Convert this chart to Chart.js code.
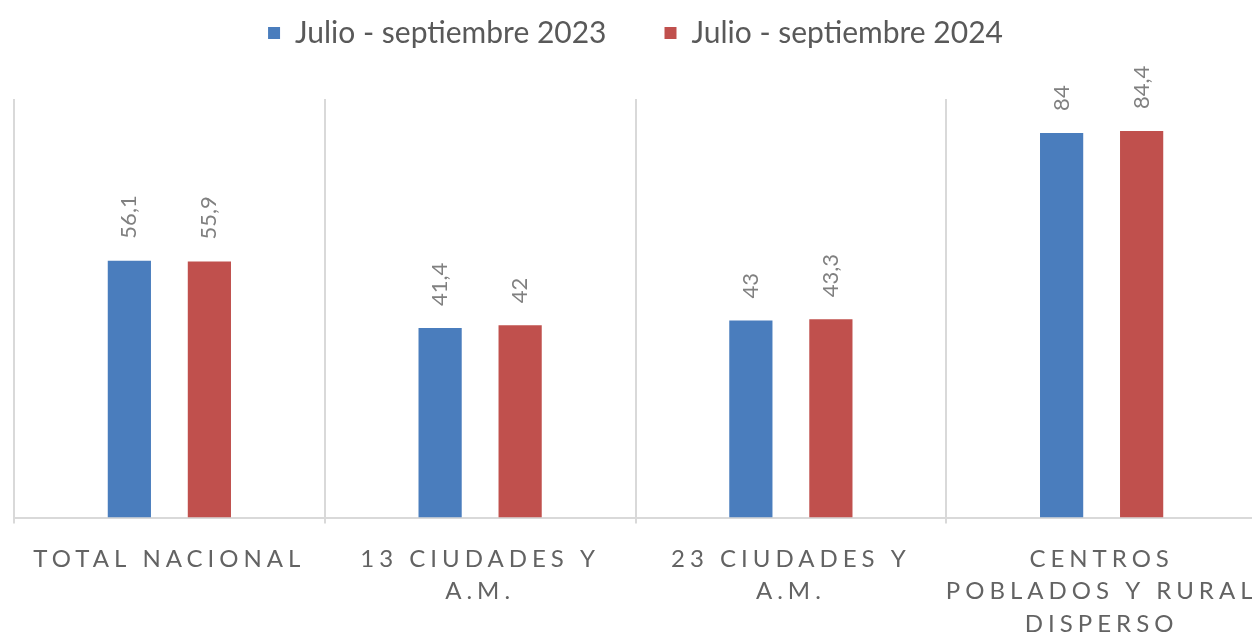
<!DOCTYPE html>
<html>
<head>
<meta charset="utf-8">
<script src="https://cdn.jsdelivr.net/npm/chart.js@4.4.1/dist/chart.umd.min.js"></script>
<style>
  html, body { margin: 0; padding: 0; background: #fff; overflow: hidden; }
  #wrap { width: 1262px; height: 660px; position: relative; }
</style>
</head>
<body>
<div id="wrap"><canvas id="chart"></canvas></div>
<script>
const categories = [
  'TOTAL NACIONAL',
  ['13 CIUDADES Y', 'A.M.'],
  ['23 CIUDADES Y', 'A.M.'],
  ['CENTROS', 'POBLADOS Y RURAL', 'DISPERSO']
];
const seriesNames = ['Julio - septiembre 2023', 'Julio - septiembre 2024'];
const values2023 = [56.1, 41.4, 43, 84];
const values2024 = [55.9, 42, 43.3, 84.4];

const BLUE = '#4a7dbd';
const RED = '#c0504d';

// extra room under the legend before the plot starts
const legendGap = {
  id: 'legendGap',
  afterInit(chart) {
    const legend = chart.legend;
    const fit = legend.fit.bind(legend);
    legend.fit = function () {
      fit();
      this.height += 41;
    };
  }
};

// letter-spaced category labels on the x axis
const spacedTicks = {
  id: 'spacedTicks',
  beforeDraw(chart) {
    const scale = chart.scales.x;
    if (scale._spaced) return;
    const orig = scale.drawLabels.bind(scale);
    scale.drawLabels = function (area) {
      const ctx = this.ctx;
      ctx.save();
      ctx.letterSpacing = '5px';
      orig(area);
      ctx.restore();
    };
    scale._spaced = true;
  }
};

// rotated value labels above each bar
const barValues = {
  id: 'barValues',
  afterDatasetsDraw(chart) {
    const ctx = chart.ctx;
    ctx.save();
    ctx.font = '22px Lato';
    ctx.fillStyle = '#808080';
    ctx.textAlign = 'left';
    ctx.textBaseline = 'middle';
    chart.data.datasets.forEach((ds, i) => {
      chart.getDatasetMeta(i).data.forEach((bar, j) => {
        const txt = String(ds.data[j]).replace('.', ',');
        ctx.save();
        ctx.translate(bar.x, bar.y - 22);
        ctx.rotate(-Math.PI / 2);
        ctx.fillText(txt, 0, 0);
        ctx.restore();
      });
    });
    ctx.restore();
  }
};

new Chart(document.getElementById('chart'), {
  type: 'bar',
  data: {
    labels: categories,
    datasets: [
      {
        label: seriesNames[0],
        data: values2023,
        backgroundColor: BLUE,
        categoryPercentage: 0.515,
        barPercentage: 0.54,
      },
      {
        label: seriesNames[1],
        data: values2024,
        backgroundColor: RED,
        categoryPercentage: 0.515,
        barPercentage: 0.54,
      },
    ],
  },
  options: {
    responsive: true,
    maintainAspectRatio: false,
    animation: false,
    layout: { padding: { top: -40, left: 14, right: 5, bottom: 0 } },
    plugins: {
      legend: {
        position: 'top',
        labels: {
          boxWidth: 12,
          boxHeight: 12,
          padding: 58,
          color: '#595959',
          font: { family: 'Lato', size: 30 },
        },
      },
      tooltip: { enabled: false },
    },
    scales: {
      x: {
        grid: {
          offset: true,
          color: '#d9d9d9',
          lineWidth: 2,
          tickLength: 6,
        },
        border: { color: '#d9d9d9', width: 2 },
        ticks: {
          color: '#636363',
          padding: 20,
          maxRotation: 0,
          autoSkip: false,
          font: { family: 'Lato', size: 24, lineHeight: 1.34 },
        },
      },
      y: {
        display: false,
        min: 0,
        max: 91.4,
      },
    },
  },
  plugins: [legendGap, spacedTicks, barValues],
});
</script>
</body>
</html>
